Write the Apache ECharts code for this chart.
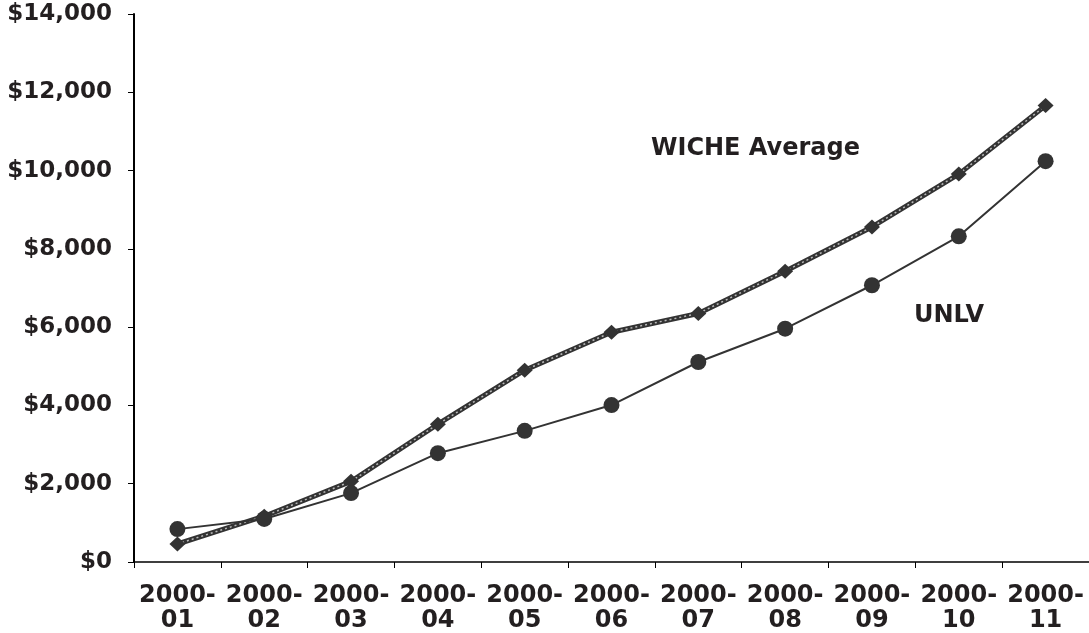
<!DOCTYPE html>
<html>
<head>
<meta charset="utf-8">
<script src="https://cdn.jsdelivr.net/npm/echarts@6/dist/echarts.min.js"></script>
<style>
html,body{margin:0;padding:0;background:#fff;}
#c{width:1089px;height:633px;}
</style>
</head>
<body>
<div id="c"></div>
<script>
const categories = ['2000-\n01','2000-\n02','2000-\n03','2000-\n04','2000-\n05','2000-\n06','2000-\n07','2000-\n08','2000-\n09','2000-\n10','2000-\n11'];
const wicheAverage = [460, 1170, 2060, 3520, 4900, 5870, 6350, 7430, 8560, 9910, 11660];
const unlv = [840, 1100, 1760, 2780, 3350, 4010, 5110, 5960, 7070, 8320, 10240];
const yTicks = { min: 0, max: 14000, interval: 2000 };

const FONT = '"DejaVu Sans", Verdana, sans-serif';
const TXT = '#231f20';
const INK = '#333333';

const chart = echarts.init(document.getElementById('c'), null, { renderer: 'canvas' });
chart.setOption({
  animation: false,
  backgroundColor: '#ffffff',
  grid: { left: 134, right: -2, top: 14, bottom: 70, containLabel: false },
  xAxis: {
    type: 'category',
    data: categories,
    boundaryGap: true,
    axisLine: { lineStyle: { color: '#000', width: 1.5 } },
    axisTick: { show: true, length: 6, lineStyle: { color: '#000', width: 1 } },
    axisLabel: {
      interval: 0, margin: 21, color: TXT, fontFamily: FONT, fontWeight: 'bold',
      fontSize: 24, lineHeight: 25
    },
    splitLine: { show: false }
  },
  yAxis: {
    type: 'value',
    min: yTicks.min, max: yTicks.max, interval: yTicks.interval,
    axisLine: { show: true, lineStyle: { color: '#000', width: 2 } },
    axisTick: { show: true, length: 6, lineStyle: { color: '#000', width: 1 } },
    axisLabel: {
      margin: 22, color: TXT, fontFamily: FONT, fontWeight: 'bold', fontSize: 23,
      formatter: v => '$' + v.toLocaleString('en-US')
    },
    splitLine: { show: false }
  },
  series: [
    {
      name: 'WICHE Average', type: 'line', data: wicheAverage, z: 2,
      symbol: 'none', lineStyle: { color: INK, width: 5 }
    },
    {
      name: 'WICHE Average dots', type: 'line', data: wicheAverage, z: 3,
      symbol: 'none', lineStyle: { color: '#b8b8b8', width: 1.5, type: [2, 3] }
    },
    {
      name: 'WICHE Average markers', type: 'line', data: wicheAverage, z: 4,
      symbol: 'diamond', symbolSize: [16, 15], showAllSymbol: true,
      itemStyle: { color: INK }, lineStyle: { width: 0, opacity: 0 }
    },
    {
      name: 'UNLV', type: 'line', data: unlv, z: 5,
      symbol: 'circle', symbolSize: 16, showAllSymbol: true,
      itemStyle: { color: INK }, lineStyle: { color: INK, width: 2 }
    }
  ],
  graphic: [
    { type: 'text', left: 651, top: 137, style: { text: 'WICHE Average', font: 'bold 24px ' + FONT, fill: TXT } },
    { type: 'text', left: 914, top: 304, style: { text: 'UNLV', font: 'bold 24px ' + FONT, fill: TXT } }
  ]
});
</script>
</body>
</html>
